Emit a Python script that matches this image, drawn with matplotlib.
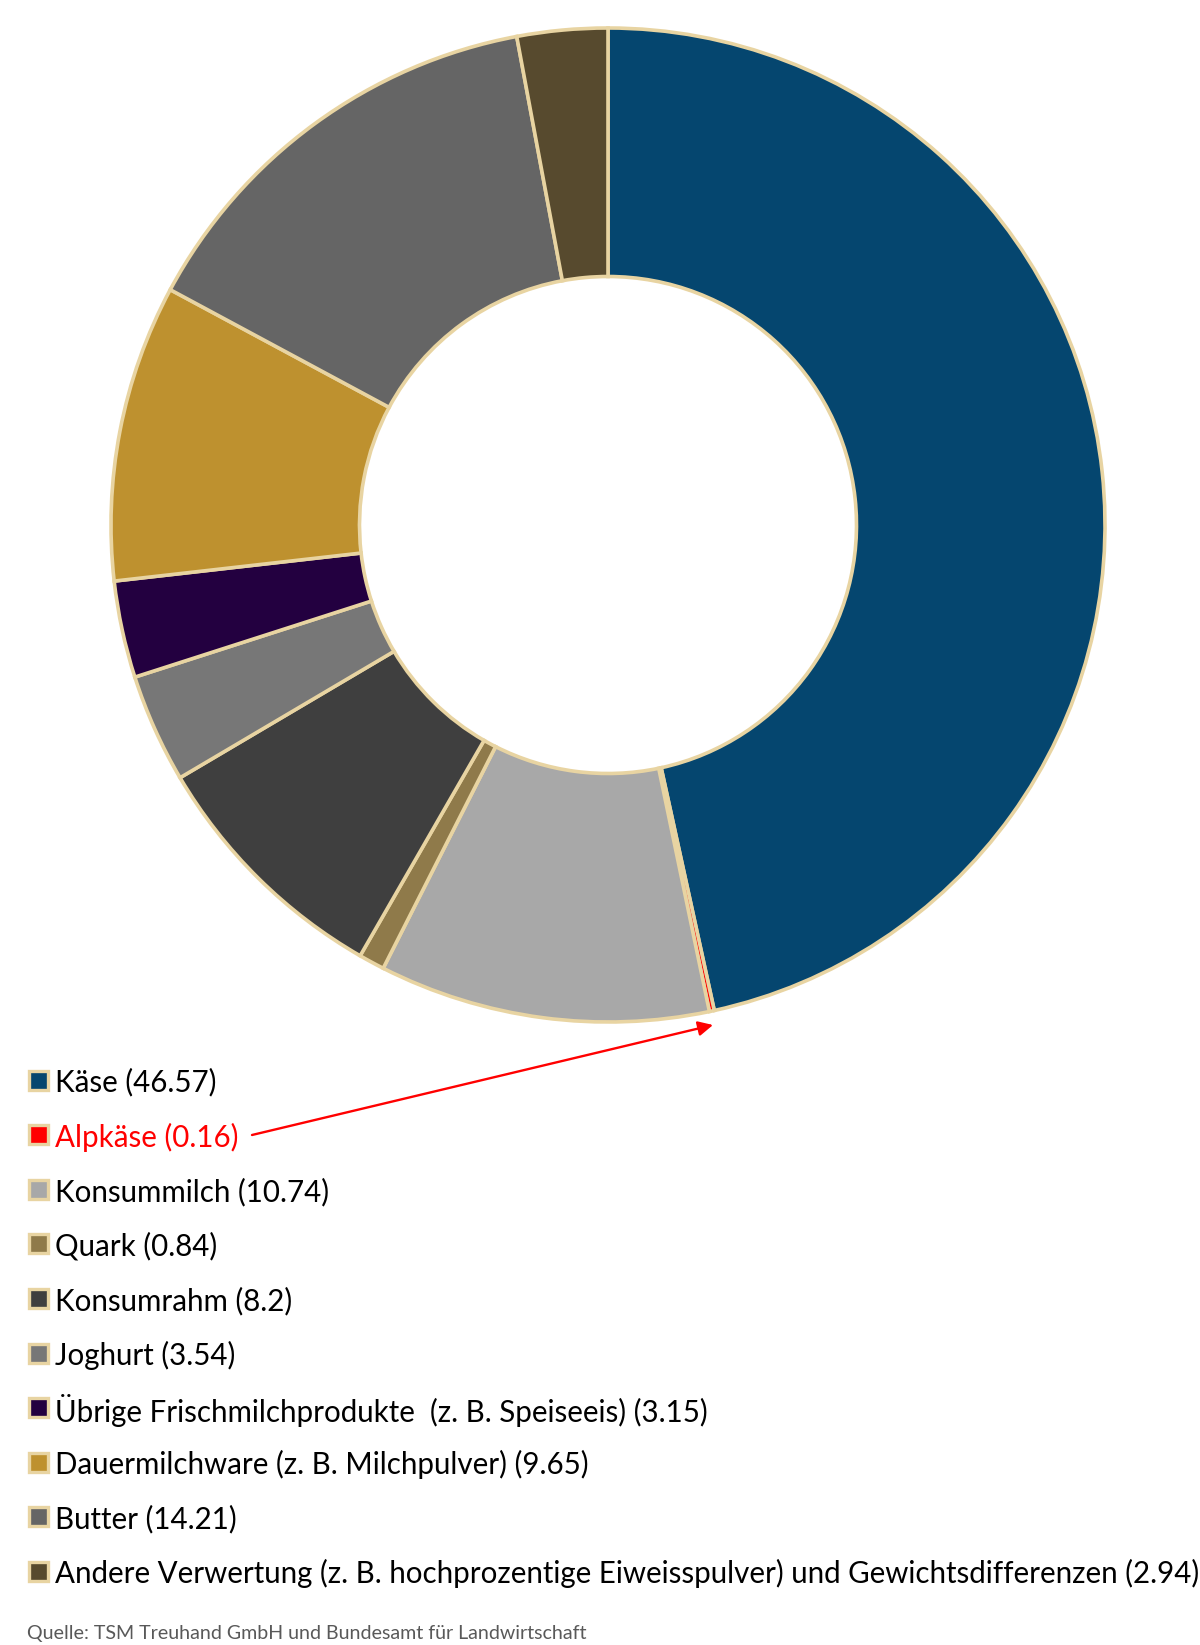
import matplotlib.pyplot as plt
from matplotlib.patches import Rectangle
from matplotlib.font_manager import FontProperties
from matplotlib.textpath import TextPath

labels = ["Käse", "Alpkäse", "Konsummilch", "Quark", "Konsumrahm", "Joghurt",
          "Übrige Frischmilchprodukte  (z. B. Speiseeis)",
          "Dauermilchware (z. B. Milchpulver)", "Butter",
          "Andere Verwertung (z. B. hochprozentige Eiweisspulver) und Gewichtsdifferenzen"]
values = [46.57, 0.16, 10.74, 0.84, 8.2, 3.54, 3.15, 9.65, 14.21, 2.94]
colors = ["#05466F", "#FF0000", "#A8A8A8", "#8F7A4A", "#3F3F3F", "#777777",
          "#230040", "#BE912F", "#656565", "#574A2E"]
source = "Quelle: TSM Treuhand GmbH und Bundesamt für Landwirtschaft"

W, H = 1200, 1645
edge = "#E8D4A2"
font = "Lato"


def fit_size(text, width_px):
    # font size in points so that text is width_px wide at dpi 100
    tp = TextPath((0, 0), text, size=10, prop=FontProperties(family=font))
    return 10 * width_px / tp.get_extents().width * 72 / 100


fig = plt.figure(figsize=(W / 100, H / 100), dpi=100)
ax = fig.add_axes([0, 0, 1, 1])

# donut, pixel coordinates with y flipped
cx, cy, R = 608, H - 525, 497
ax.pie(values, colors=colors, startangle=90, counterclock=False,
       center=(cx, cy), radius=R, frame=True,
       wedgeprops=dict(width=R * 0.5, edgecolor=edge, linewidth=2.6))
ax.set_xlim(0, W)
ax.set_ylim(0, H)
ax.axis("off")

# legend
legend_text = [f"{n} ({v})" for n, v in zip(labels, values)]
fs = fit_size(max(legend_text, key=len), 1142)

y0, dy = 1080, 54.6
for i, (txt, c) in enumerate(zip(legend_text, colors)):
    y = H - (y0 + i * dy)
    ax.add_patch(Rectangle((28.5, y - 9.5), 19, 19, facecolor=c,
                           edgecolor=edge, linewidth=2.4, zorder=3))
    ax.text(55, y, txt, fontsize=fs, family=font, va="center_baseline",
            color="#FF0000" if labels[i] == "Alpkäse" else "black")

# arrow from Alpkäse label to its slice
ax.annotate("", xy=(713, H - 1025), xytext=(252, H - 1135),
            arrowprops=dict(arrowstyle="-|>", color="#FF0000", lw=1.7,
                            mutation_scale=22, shrinkA=0, shrinkB=0))

ax.text(27, H - 1633, source, fontsize=fit_size(source, 558), family=font,
        color="#595959", va="center")

fig.savefig("out.png", dpi=100)
